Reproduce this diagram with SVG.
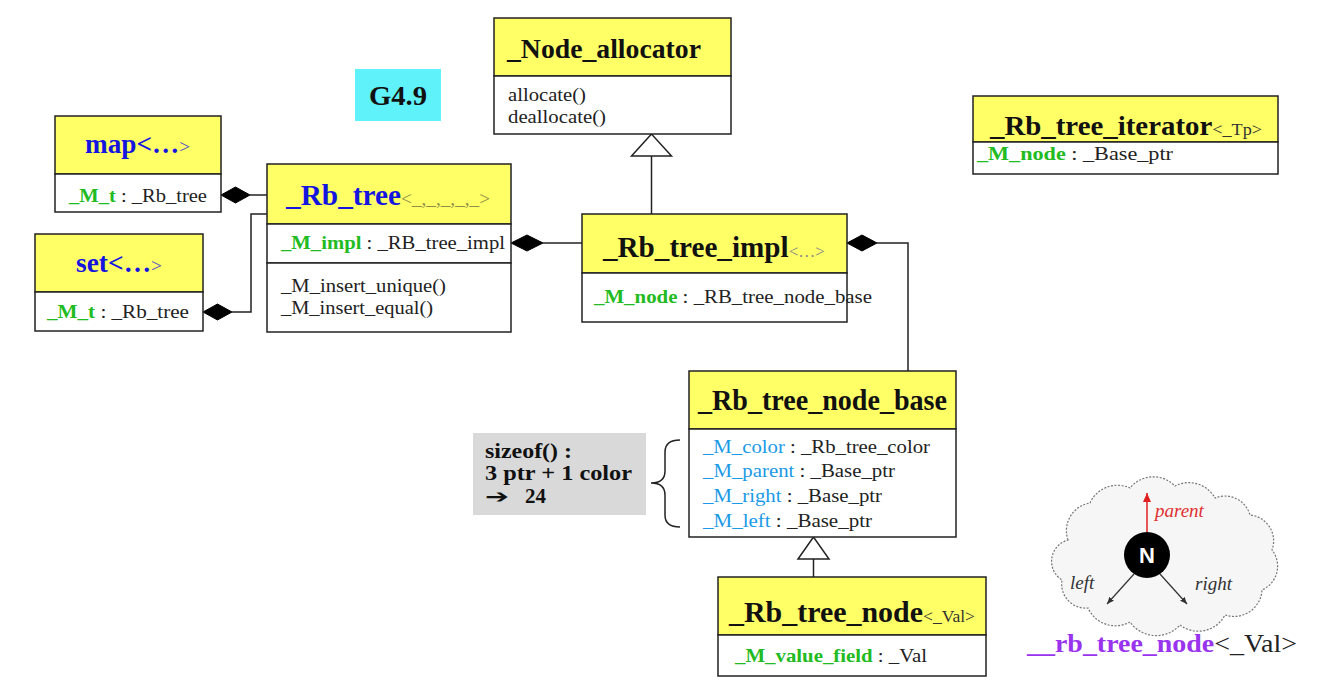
<svg xmlns="http://www.w3.org/2000/svg" width="1335" height="693" viewBox="0 0 1335 693">
<style>
.hdr{fill:#ffff66;stroke:#222;stroke-width:1.5}
.body{fill:#fff;stroke:#222;stroke-width:1.5}
.t{font-family:"Liberation Serif","Times New Roman",serif}
.title{font-weight:bold;font-size:28px;fill:#111}
.blue{fill:#1515e0}
.small{font-weight:normal;font-size:17px;fill:#888}
.attr{font-size:19px;fill:#222}
.g{font-weight:bold;fill:#22bb22}
.lb{fill:#1a9ae6}
.ln{fill:none;stroke:#222;stroke-width:1.5}
.dia{fill:#000;stroke:#000;stroke-width:1}
.tri{fill:#fff;stroke:#222;stroke-width:1.5}
</style>
<defs>
<marker id="ah" markerWidth="8" markerHeight="8" refX="7" refY="4" orient="auto" markerUnits="userSpaceOnUse"><path d="M0,1 L7,4 L0,7 Z" fill="#333"/></marker>
<marker id="ahr" markerWidth="10" markerHeight="10" refX="9" refY="5" orient="auto" markerUnits="userSpaceOnUse"><path d="M0,1 L9,5 L0,9 Z" fill="#e02020"/></marker>
</defs>

<g id="connectors">
<polygon class="dia" points="221,195 235.5,187 250,195 235.5,203"/>
<path class="ln" d="M250,195 H267"/>
<polygon class="dia" points="203,312 217.5,304 232,312 217.5,320"/>
<path class="ln" d="M232,312 H251 V214 H267"/>
<polygon class="dia" points="511,243 527,235 543,243 527,251"/>
<path class="ln" d="M543,243 H582"/>
<polygon class="dia" points="847,243 862,235 877,243 862,251"/>
<path class="ln" d="M877,243 H908 V371"/>
<path class="ln" d="M651.5,156 V214"/>
<polygon class="tri" points="651.5,134 631.5,156 671.5,156"/>
<path class="ln" d="M813.5,559 V577"/>
<polygon class="tri" points="813.5,537 798,559 829,559"/>
</g>

<g id="g49">
<rect x="355" y="69" width="86" height="52" fill="#5ff2fa"/>
<text class="t" x="369" y="105" font-weight="bold" font-size="27" fill="#111" textLength="58" lengthAdjust="spacingAndGlyphs">G4.9</text>
</g>

<g id="map">
<rect class="hdr" x="55" y="116" width="166" height="58"/>
<rect class="body" x="55" y="174" width="166" height="38"/>
<text class="t" x="85" y="153" textLength="105" lengthAdjust="spacingAndGlyphs"><tspan class="title blue" style="font-size:27px">map&lt;…</tspan><tspan class="small" style="fill:#5050c0;font-size:19px">&gt;</tspan></text>
<text class="t attr" x="69" y="202" textLength="138" lengthAdjust="spacingAndGlyphs"><tspan class="g">_M_t</tspan> : _Rb_tree</text>
</g>

<g id="set">
<rect class="hdr" x="35" y="234" width="168" height="58"/>
<rect class="body" x="35" y="292" width="168" height="39"/>
<text class="t" x="76" y="272" textLength="86" lengthAdjust="spacingAndGlyphs"><tspan class="title blue" style="font-size:27px">set&lt;…</tspan><tspan class="small" style="fill:#5050c0;font-size:19px">&gt;</tspan></text>
<text class="t attr" x="47" y="318" textLength="142" lengthAdjust="spacingAndGlyphs"><tspan class="g">_M_t</tspan> : _Rb_tree</text>
</g>

<g id="rb_tree">
<rect class="hdr" x="267" y="164" width="244" height="60"/>
<rect class="body" x="267" y="224" width="244" height="39"/>
<rect class="body" x="267" y="263" width="244" height="69"/>
<text class="t" x="286" y="205" textLength="204" lengthAdjust="spacingAndGlyphs"><tspan class="title blue" style="font-size:29px">_Rb_tree</tspan><tspan class="small" style="fill:#8f8f4a;font-size:19px">&lt;_,_,_,_,_&gt;</tspan></text>
<text class="t attr" x="281" y="249" textLength="224" lengthAdjust="spacingAndGlyphs"><tspan class="g">_M_impl</tspan> : _RB_tree_impl</text>
<text class="t attr" x="281" y="292" textLength="165" lengthAdjust="spacingAndGlyphs">_M_insert_unique()</text>
<text class="t attr" x="281" y="314" textLength="152" lengthAdjust="spacingAndGlyphs">_M_insert_equal()</text>
</g>

<g id="node_allocator">
<rect class="hdr" x="494" y="18" width="237" height="58"/>
<rect class="body" x="494" y="76" width="237" height="58"/>
<text class="t title" x="507" y="58" textLength="194" lengthAdjust="spacingAndGlyphs">_Node_allocator</text>
<text class="t attr" x="508" y="101" textLength="78" lengthAdjust="spacingAndGlyphs">allocate()</text>
<text class="t attr" x="508" y="123" textLength="98" lengthAdjust="spacingAndGlyphs">deallocate()</text>
</g>

<g id="rb_tree_impl">
<rect class="hdr" x="582" y="214" width="265" height="59"/>
<rect class="body" x="582" y="273" width="265" height="49"/>
<text class="t" x="603" y="257" textLength="222" lengthAdjust="spacingAndGlyphs"><tspan class="title" style="font-size:29px">_Rb_tree_impl</tspan><tspan class="small">&lt;…&gt;</tspan></text>
<text class="t attr" x="594" y="303" textLength="278" lengthAdjust="spacingAndGlyphs"><tspan class="g">_M_node</tspan> : _RB_tree_node_base</text>
</g>

<g id="rb_tree_iterator">
<rect class="hdr" x="973" y="96" width="305" height="46"/>
<rect class="body" x="973" y="142" width="305" height="32"/>
<text class="t" x="990" y="135" textLength="272" lengthAdjust="spacingAndGlyphs"><tspan class="title" style="font-size:27px">_Rb_tree_iterator</tspan><tspan class="small" style="fill:#333">&lt;_Tp&gt;</tspan></text>
<text class="t attr" x="977" y="160" textLength="196" lengthAdjust="spacingAndGlyphs"><tspan class="g">_M_node</tspan> : _Base_ptr</text>
</g>

<g id="rb_tree_node_base">
<rect class="hdr" x="689" y="371" width="267" height="58"/>
<rect class="body" x="689" y="429" width="267" height="108"/>
<text class="t title" x="698" y="410" style="font-size:29px" textLength="249" lengthAdjust="spacingAndGlyphs">_Rb_tree_node_base</text>
<text class="t attr" x="703" y="453" textLength="227" lengthAdjust="spacingAndGlyphs"><tspan class="lb">_M_color</tspan> : _Rb_tree_color</text>
<text class="t attr" x="703" y="477" textLength="192" lengthAdjust="spacingAndGlyphs"><tspan class="lb">_M_parent</tspan> : _Base_ptr</text>
<text class="t attr" x="703" y="502" textLength="179" lengthAdjust="spacingAndGlyphs"><tspan class="lb">_M_right</tspan> : _Base_ptr</text>
<text class="t attr" x="703" y="527" textLength="169" lengthAdjust="spacingAndGlyphs"><tspan class="lb">_M_left</tspan> : _Base_ptr</text>
</g>

<g id="rb_tree_node">
<rect class="hdr" x="718" y="577" width="268" height="58"/>
<rect class="body" x="718" y="635" width="268" height="41"/>
<text class="t" x="729" y="622" textLength="246" lengthAdjust="spacingAndGlyphs"><tspan class="title" style="font-size:29px">_Rb_tree_node</tspan><tspan class="small" style="fill:#333">&lt;_Val&gt;</tspan></text>
<text class="t attr" x="735" y="662" textLength="192" lengthAdjust="spacingAndGlyphs"><tspan class="g">_M_value_field</tspan> : _Val</text>
</g>

<g id="sizeof_note">
<rect x="473" y="433" width="173" height="82" fill="#d9d9d9"/>
<text class="t" x="485" y="458" font-weight="bold" font-size="21" fill="#111" textLength="87" lengthAdjust="spacingAndGlyphs">sizeof() :</text>
<text class="t" x="485" y="480" font-weight="bold" font-size="21" fill="#111" textLength="147" lengthAdjust="spacingAndGlyphs">3 ptr + 1 color</text>
<text x="485" y="503" font-family="DejaVu Sans, sans-serif" font-weight="bold" font-size="19" fill="#111" textLength="24" lengthAdjust="spacingAndGlyphs">➔</text>
<text class="t" x="525" y="503" font-weight="bold" font-size="21" fill="#111">24</text>
<path class="ln" d="M680,440 Q665,440 665,452 V471 Q665,483 651,483 Q665,483 665,495 V515 Q665,527 680,527"/>
</g>

<g id="rb_tree_node_cloud">
<path d="M1068,540 A28,28 0 0 1 1090,503 A30,30 0 0 1 1130,488 A30,30 0 0 1 1175,486 A30,30 0 0 1 1215,498 A26,26 0 0 1 1250,515 A26,26 0 0 1 1272,550 A26,26 0 0 1 1262,590 A28,28 0 0 1 1225,615 A30,30 0 0 1 1180,625 A32,32 0 0 1 1130,622 A30,30 0 0 1 1088,608 A24,24 0 0 1 1062,580 A22,22 0 0 1 1068,540 Z" fill="#f6f6f6" stroke="#777" stroke-width="1.2" stroke-dasharray="2 1.5"/>
<line x1="1147" y1="532" x2="1147" y2="493" stroke="#e02020" stroke-width="1.5" marker-end="url(#ahr)"/>
<line x1="1134" y1="574" x2="1107" y2="604" stroke="#333" stroke-width="1.2" marker-end="url(#ah)"/>
<line x1="1160" y1="574" x2="1187" y2="604" stroke="#333" stroke-width="1.2" marker-end="url(#ah)"/>
<circle cx="1147" cy="555" r="23" fill="#000"/>
<text x="1147" y="563" text-anchor="middle" font-family="Liberation Sans, Arial, sans-serif" font-weight="bold" font-size="22" fill="#fff">N</text>
<text class="t" x="1155" y="517" font-style="italic" font-size="19" fill="#e03030">parent</text>
<text class="t" x="1070" y="589" font-style="italic" font-size="19" fill="#333">left</text>
<text class="t" x="1195" y="590" font-style="italic" font-size="19" fill="#333">right</text>
<text class="t" x="1027" y="652" textLength="270" lengthAdjust="spacingAndGlyphs"><tspan font-weight="bold" font-size="26" fill="#9933ee">__rb_tree_node</tspan><tspan font-size="26" fill="#222">&lt;_Val&gt;</tspan></text>
</g>
</svg>
